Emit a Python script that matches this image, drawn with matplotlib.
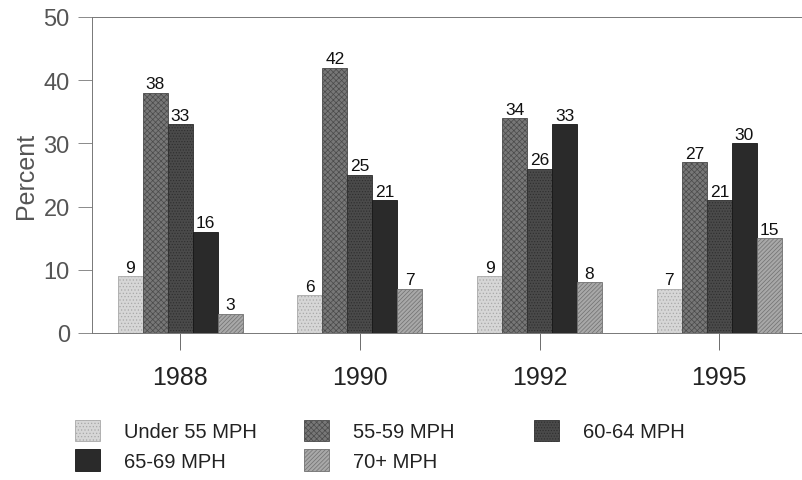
import numpy as np
import matplotlib.pyplot as plt
from matplotlib.patches import Patch

plt.rcParams['font.family'] = ['Liberation Sans', 'DejaVu Sans']
plt.rcParams['hatch.linewidth'] = 0.5

# data
years = ['1988', '1990', '1992', '1995']
speed_groups = ['Under 55 MPH', '55-59 MPH', '60-64 MPH', '65-69 MPH', '70+ MPH']
under_55 = [9, 6, 9, 7]
mph_55_59 = [38, 42, 34, 27]
mph_60_64 = [33, 25, 26, 21]
mph_65_69 = [16, 21, 33, 30]
mph_70_plus = [3, 7, 8, 15]
series = [under_55, mph_55_59, mph_60_64, mph_65_69, mph_70_plus]

# grey halftone look
face = ['#d6d6d6', '#777777', '#4a4a4a', '#2a2a2a', '#a8a8a8']
hatch_col = ['#a8a8a8', '#4a4a4a', '#2e2e2e', '#161616', '#707070']
hatches = ['.....', 'xxxxxx', '......', '', '////////']

fig = plt.figure(figsize=(8.02, 4.81), dpi=100)
ax = fig.add_axes([92/802, 1 - 334/481, 1 - 92/802, (334 - 18)/481])

x = np.arange(len(years))
w = 0.139
for j, vals in enumerate(series):
    pos = x + (j - 2) * w
    ax.bar(pos, vals, width=w, color=face[j], edgecolor=hatch_col[j],
           hatch=hatches[j], linewidth=0.6)
    for p, v in zip(pos, vals):
        ax.text(p, v + 0.25, str(v), ha='center', va='bottom', fontsize=12.5,
                color='#111111',
                bbox=dict(facecolor='white', edgecolor='none', pad=0.8))

ax.set_xlim(-0.49, 3.46)
ax.set_ylim(0, 50)
ax.set_yticks([0, 10, 20, 30, 40, 50])
ax.set_xticks(x)
ax.set_xticklabels(years)
ax.tick_params(axis='y', direction='out', length=10, width=0.6, pad=6,
               labelsize=17, labelcolor='#555555', color='#777777')
ax.tick_params(axis='x', direction='out', length=12, width=0.6, pad=11,
               labelsize=18, labelcolor='#222222', color='#555555')
ax.set_ylabel('Percent', fontsize=18, color='#555555', labelpad=4)

for side in ['left', 'bottom', 'top']:
    ax.spines[side].set_color('#777777')
    ax.spines[side].set_linewidth(0.7)
ax.spines['right'].set_visible(False)

handles = [Patch(facecolor=face[j], edgecolor=hatch_col[j], hatch=hatches[j],
                 linewidth=0.6, label=speed_groups[j]) for j in range(5)]

# legend laid out in three columns like the original
columns = [[0, 3], [1, 4], [2]]
col_x = [75, 304, 534]
for idx, cx in zip(columns, col_x):
    fig.legend(handles=[handles[i] for i in idx], loc='upper left',
               bbox_to_anchor=(cx/802, 1 - 421/481), frameon=False,
               fontsize=14.5, handlelength=1.24, handleheight=1.24,
               handletextpad=1.2, labelspacing=0.4, borderpad=0,
               borderaxespad=0, labelcolor='#222222')

fig.savefig('out.png', dpi=100)
